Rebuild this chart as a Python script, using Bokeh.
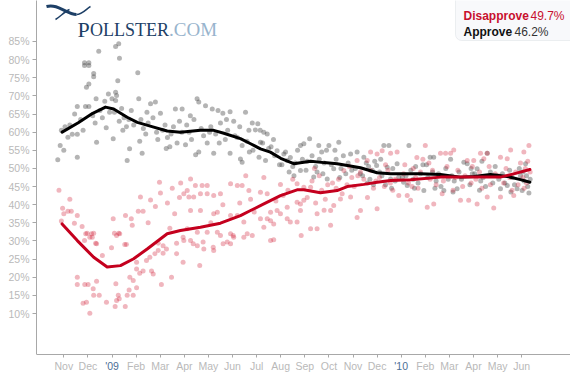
from bokeh.plotting import figure
from bokeh.models import Range1d, FixedTicker, Label, BoxAnnotation, LinearAxis
from bokeh.embed import file_html
from bokeh.resources import INLINE

# ---------------- data ----------------
# x = months since 1 Nov 2008 (0 = Nov '08, 2 = Jan '09, 14 = Jan '10)
month_ticks = list(range(20))
month_labels = ["Nov", "Dec", "'09", "Feb", "Mar", "Apr", "May", "Jun", "Jul", "Aug",
                "Sep", "Oct", "Nov", "Dec", "'10", "Feb", "Mar", "Apr", "May", "Jun"]
y_ticks = [10, 15, 20, 25, 30, 35, 40, 45, 50, 55, 60, 65, 70, 75, 80, 85]

approve_trend_x = [-0.07, 0.6, 1.2, 1.73, 2.07, 2.63, 3.05, 3.73, 4.29, 4.84, 5.67, 6.22, 6.64,
                   7.33, 7.75, 8.16, 8.57, 9.0, 9.54, 10.24, 10.8, 11.34, 12.31, 13.0, 13.56,
                   14.39, 14.8, 15.63, 16.46, 17.01, 17.7, 18.4, 18.95, 19.34]
approve_trend_y = [60.0, 62.6, 65.2, 66.9, 66.4, 64.1, 62.7, 61.4, 60.3, 60.0, 60.5, 60.5, 59.7,
                   58.2, 56.8, 55.4, 54.5, 52.8, 51.3, 52.0, 51.6, 51.3, 50.2, 48.8, 48.5,
                   48.5, 48.5, 48.3, 47.6, 47.8, 48.3, 47.8, 46.9, 46.2]

disapprove_trend_x = [-0.07, 0.56, 1.24, 1.8, 2.35, 2.9, 3.46, 4.29, 4.84, 5.67, 6.5, 7.33,
                      7.75, 8.3, 8.99, 9.68, 9.96, 10.65, 11.34, 11.76, 12.45, 13.0, 13.56,
                      14.39, 15.63, 17.29, 18.12, 18.67, 19.34]
disapprove_trend_y = [34.7, 30.1, 25.5, 22.8, 23.2, 25.1, 27.8, 32.0, 32.9, 33.8, 34.9, 37.0,
                      38.4, 40.2, 42.5, 44.1, 44.1, 43.3, 43.9, 45.0, 45.6, 46.2, 46.7,
                      46.9, 47.6, 47.6, 47.6, 48.5, 49.7]

approve_polls = [
    (-0.25, 52.4), (-0.15, 56.3), (-0.1, 60.5), (0.0, 55.0), (0.05, 61.5),
    (0.17, 58.6), (0.35, 59.4), (0.56, 59.4), (0.56, 53.1), (0.56, 67.1), (0.86, 79.1), (0.86, 78.4),
    (0.9, 67.1), (0.94, 72.4), (1.04, 73.3), (1.04, 79.1), (1.04, 78.4), (0.25, 62.0), (0.7, 63.5),
    (0.45, 65.0), (0.8, 60.5),
    (1.04, 67.1), (1.24, 76.2), (1.24, 75.3), (1.34, 69.2), (1.36, 57.2), (1.45, 82.3), (1.76, 61.2),
    (1.2, 64.5), (1.5, 66.0), (1.6, 64.0), (1.7, 68.5), (1.9, 65.5), (1.3, 62.5), (1.85, 70.5),
    (2.0, 69.2), (2.05, 58.2), (2.15, 83.6), (2.15, 71.0), (2.15, 68.7), (2.19, 70.1), (2.24, 74.2),
    (2.28, 84.4), (2.31, 80.4), (2.63, 52.2), (2.73, 55.4), (2.1, 65.5), (2.3, 63.0), (2.4, 66.5),
    (2.5, 64.0), (2.6, 61.5), (2.7, 63.5), (2.8, 66.0), (2.9, 62.0), (2.45, 60.5),
    (3.07, 76.4), (3.11, 69.2), (3.6, 67.8), (3.8, 68.3), (3.25, 54.2), (3.2, 63.5), (3.3, 61.0),
    (3.4, 59.5), (3.5, 62.5), (3.7, 64.0), (3.85, 60.0), (3.9, 58.0), (3.45, 65.5), (3.15, 57.5),
    (4.01, 65.2), (4.63, 66.4), (4.91, 66.4), (4.1, 60.5), (4.2, 62.0), (4.3, 58.5), (4.45, 59.5),
    (4.55, 61.5), (4.7, 57.0), (4.8, 63.0), (4.4, 56.0), (4.9, 60.0), (4.25, 55.5),
    (5.53, 69.2), (5.6, 68.3), (5.47, 53.8), (5.6, 54.5), (5.88, 67.3), (5.1, 62.0), (5.2, 60.0),
    (5.3, 58.0), (5.4, 63.5), (5.7, 61.0), (5.8, 59.0), (5.95, 57.0), (5.25, 64.5), (5.05, 56.5),
    (6.16, 66.4), (6.4, 66.0), (6.6, 65.2), (6.9, 65.6), (6.22, 54.2), (6.9, 54.2), (6.1, 61.5),
    (6.3, 59.5), (6.5, 62.5), (6.7, 58.0), (6.8, 60.5), (6.45, 57.0), (6.75, 63.5), (6.05, 60.0),
    (7.54, 65.5), (7.82, 62.5), (7.68, 60.5), (7.95, 60.6), (7.2, 58.5), (7.4, 56.3), (7.33, 52.6),
    (7.4, 51.7), (7.1, 59.0), (7.6, 57.5), (7.3, 61.5), (7.85, 55.0), (7.05, 63.0), (7.7, 54.5),
    (8.05, 62.3), (8.3, 60.0), (8.44, 59.5), (8.16, 57.2), (8.1, 53.1), (8.37, 52.2), (8.85, 54.9),
    (8.6, 56.0), (8.7, 58.0), (8.5, 55.5), (8.95, 51.0), (8.25, 57.0), (8.75, 53.5), (8.15, 60.5),
    (9.13, 54.0), (9.27, 52.2), (9.82, 56.3), (9.96, 56.8), (9.82, 49.4), (9.4, 53.0), (9.5, 50.5),
    (9.6, 51.5), (9.7, 55.0), (9.35, 49.0), (9.9, 52.5), (9.55, 48.0), (9.2, 54.5), (9.05, 51.0),
    (10.2, 58.2), (10.58, 56.3), (10.51, 49.0), (10.37, 47.6), (10.93, 47.1), (10.1, 52.0),
    (10.3, 53.5), (10.45, 50.5), (10.7, 54.5), (10.8, 51.5), (10.05, 49.5), (10.9, 55.0),
    (10.6, 52.5), (10.75, 48.5),
    (11.0, 56.3), (11.41, 57.2), (11.2, 49.9), (11.9, 54.0), (11.1, 51.0), (11.3, 52.5), (11.5, 50.0),
    (11.6, 53.5), (11.7, 48.5), (11.8, 51.5), (11.45, 47.5), (11.25, 55.0), (11.95, 49.5),
    (12.17, 54.5), (12.45, 53.1), (12.98, 50.8), (12.1, 50.0), (12.3, 48.5), (12.55, 51.5),
    (12.7, 47.0), (12.8, 49.5), (12.6, 46.0), (12.9, 52.0), (12.4, 48.0), (12.85, 45.5), (12.65, 50.5),
    (13.28, 56.3), (13.49, 56.3), (13.42, 50.3), (13.83, 51.3), (13.56, 47.1), (13.9, 47.6),
    (13.1, 49.0), (13.2, 48.0), (13.35, 45.5), (13.65, 50.0), (13.75, 46.5), (13.6, 44.5), (13.15, 52.5),
    (14.32, 56.3), (14.1, 46.2), (14.25, 45.3), (14.94, 43.9), (14.2, 48.0), (14.4, 49.5), (14.5, 47.0),
    (14.6, 50.5), (14.7, 46.0), (14.8, 48.5), (14.55, 44.5), (14.9, 51.0), (14.05, 47.5),
    (15.2, 53.1), (15.35, 53.1), (15.77, 43.9), (15.1, 47.5), (15.3, 49.0), (15.45, 46.5),
    (15.55, 48.5), (15.65, 45.0), (15.85, 50.0), (15.95, 47.0), (15.4, 44.5), (15.05, 51.0),
    (16.6, 51.7), (16.74, 51.3), (16.32, 44.4), (16.1, 48.0), (16.2, 46.5), (16.4, 49.0), (16.5, 47.0),
    (16.85, 45.5), (16.9, 50.0), (16.95, 48.5), (16.15, 43.5), (16.05, 52.5),
    (17.57, 54.2), (17.15, 49.9), (17.05, 48.5), (17.3, 46.5), (17.4, 47.5), (17.5, 45.0), (17.7, 49.0),
    (17.8, 46.0), (17.9, 50.5), (17.25, 44.0), (17.95, 48.0), (17.35, 52.0),
    (18.12, 44.4), (18.4, 45.3), (18.81, 44.4), (18.05, 47.0), (18.2, 48.5), (18.3, 46.0), (18.5, 49.5),
    (18.6, 47.5), (18.7, 45.5), (18.9, 50.0), (18.55, 43.5), (18.95, 48.0),
    (19.16, 51.3), (19.3, 43.2), (19.02, 43.9), (19.1, 46.5), (19.2, 48.0), (19.25, 45.0),
    (19.35, 47.0), (19.05, 49.0),
]

disapprove_polls = [
    (-0.2, 44.0), (-0.05, 39.0), (-0.1, 35.5), (0.0, 37.5),
    (0.17, 38.2), (0.31, 38.2), (0.56, 37.0), (0.44, 34.9), (0.76, 34.0), (0.97, 32.1), (0.86, 30.1),
    (0.56, 20.0), (0.56, 18.0), (0.87, 18.0), (0.8, 12.8), (0.94, 13.1), (0.91, 32.0), (0.25, 41.5),
    (1.01, 18.0), (1.08, 10.1), (1.22, 16.8), (1.36, 18.9), (1.24, 15.0), (1.47, 15.0), (1.77, 13.1),
    (1.15, 32.0), (1.08, 31.0), (1.36, 29.2), (1.18, 31.0), (1.24, 32.1), (1.32, 29.4), (1.98, 28.1),
    (1.6, 26.0),
    (2.16, 18.2), (2.26, 15.0), (2.3, 14.1), (2.19, 13.6), (2.13, 11.9), (2.55, 11.9), (2.63, 15.0),
    (2.71, 16.5), (2.88, 15.0), (2.74, 20.0), (2.88, 19.1), (2.19, 31.5), (2.32, 32.0), (2.53, 29.0),
    (2.6, 29.0), (2.05, 36.1), (2.56, 37.0), (2.8, 36.1), (2.84, 34.3), (2.1, 32.1), (2.28, 32.1),
    (3.02, 17.1), (3.02, 22.3), (3.15, 21.1), (3.29, 21.7), (3.64, 21.7), (3.71, 20.9), (3.02, 24.1),
    (3.43, 24.6), (3.57, 25.5), (3.78, 26.5), (3.92, 27.4), (3.92, 29.4), (3.18, 42.1), (3.09, 38.2),
    (3.29, 38.2), (3.6, 41.3), (3.97, 46.2), (3.5, 35.0), (3.8, 39.5),
    (4.01, 43.2), (4.05, 18.0), (4.47, 20.0), (4.12, 26.6), (4.26, 27.8), (4.68, 26.5), (4.95, 24.1),
    (4.12, 28.7), (4.68, 29.4), (4.95, 31.0), (4.98, 43.0), (4.98, 30.1), (4.3, 40.5), (4.5, 44.5),
    (4.6, 37.5), (4.8, 42.0), (4.4, 33.5), (4.85, 46.0),
    (5.64, 23.2), (5.37, 29.2), (5.78, 29.7), (5.26, 47.1), (5.46, 45.3), (5.74, 45.3), (5.95, 45.3),
    (5.12, 43.9), (5.19, 42.1), (5.39, 42.1), (5.67, 43.0), (5.95, 43.0), (5.26, 38.4), (5.67, 38.4),
    (5.12, 33.4), (5.54, 32.4), (5.95, 32.4), (5.26, 30.1), (5.54, 28.7), (5.81, 27.8),
    (6.2, 28.3), (6.61, 29.2), (6.22, 42.5), (6.5, 43.0), (6.92, 45.8), (6.22, 37.5), (6.37, 37.9),
    (6.92, 37.0), (6.37, 32.4), (6.5, 31.5), (6.92, 32.0), (6.78, 29.7), (6.22, 27.4), (6.92, 29.2),
    (6.6, 40.0), (6.1, 35.0),
    (7.03, 31.5), (7.2, 45.3), (7.4, 45.3), (7.68, 43.9), (7.2, 37.0), (7.47, 35.2), (7.05, 31.0),
    (7.47, 31.0), (7.61, 32.0), (7.82, 31.5), (7.3, 40.5), (7.9, 38.0), (7.55, 48.0), (7.75, 41.5),
    (8.16, 43.4), (8.44, 43.0), (8.99, 45.6), (8.16, 36.1), (8.44, 36.1), (8.58, 37.9), (8.85, 38.4),
    (8.99, 37.5), (8.3, 33.8), (8.71, 34.7), (8.58, 30.1), (8.71, 30.3), (8.58, 35.6), (8.3, 47.5),
    (8.8, 41.0),
    (9.68, 45.8), (9.96, 44.8), (9.27, 39.3), (9.68, 40.7), (9.82, 38.4), (9.4, 35.2), (9.68, 35.2),
    (9.27, 36.1), (9.82, 40.2), (9.96, 41.2), (9.1, 42.5), (9.5, 47.0), (9.3, 44.0), (9.85, 31.5),
    (10.24, 44.8), (10.51, 37.5), (10.24, 33.4), (10.51, 33.4), (10.1, 42.0), (10.3, 46.5),
    (10.45, 40.5), (10.6, 48.0), (10.7, 44.0), (10.85, 41.5), (10.95, 45.5), (10.4, 50.0), (10.8, 38.5),
    (11.07, 38.4), (11.2, 39.8), (11.07, 34.3), (11.48, 41.6), (11.9, 42.1), (11.62, 49.4),
    (11.3, 44.5), (11.4, 47.0), (11.75, 45.5), (11.85, 50.5), (11.55, 43.0), (11.15, 46.0), (11.95, 47.5),
    (12.17, 52.2), (12.59, 52.2), (12.31, 49.0), (12.73, 49.4), (12.31, 38.4), (12.17, 36.5),
    (12.73, 54.5), (12.05, 45.0), (12.45, 47.0), (12.85, 44.5), (12.6, 42.0), (12.95, 46.5), (12.2, 48.0),
    (13.0, 54.0), (13.21, 54.9), (13.56, 54.2), (13.83, 54.5), (13.0, 38.9), (13.1, 47.5), (13.3, 45.0),
    (13.45, 49.5), (13.65, 44.0), (13.75, 47.0), (13.9, 42.5), (13.35, 51.0), (13.55, 46.0),
    (14.25, 42.5), (14.39, 41.2), (14.1, 48.5), (14.3, 46.0), (14.5, 50.0), (14.6, 47.5), (14.7, 44.5),
    (14.8, 49.0), (14.9, 52.5), (14.45, 45.0), (14.65, 53.0), (14.15, 51.0),
    (15.0, 56.3), (15.08, 39.3), (15.35, 40.2), (15.63, 54.2), (15.84, 54.2), (15.2, 47.0), (15.3, 49.5),
    (15.45, 45.5), (15.55, 48.0), (15.7, 43.0), (15.9, 50.5), (15.15, 51.5), (15.75, 46.5),
    (16.05, 54.2), (16.18, 55.1), (16.46, 41.2), (16.8, 41.2), (16.74, 52.2), (16.25, 47.5),
    (16.35, 49.5), (16.55, 45.0), (16.65, 48.0), (16.9, 46.0), (16.15, 44.0), (16.95, 50.5),
    (17.01, 52.2), (17.29, 54.2), (17.57, 54.2), (17.43, 52.7), (17.15, 40.2), (17.84, 39.1),
    (17.57, 42.1), (17.1, 47.0), (17.25, 49.0), (17.7, 45.5), (17.9, 48.5), (17.35, 44.5), (17.65, 50.5),
    (18.12, 53.1), (18.4, 52.7), (18.54, 55.1), (18.12, 42.1), (18.67, 42.5), (18.05, 48.0),
    (18.25, 46.0), (18.35, 50.0), (18.5, 47.5), (18.75, 49.0), (18.85, 45.5), (18.95, 51.5), (18.6, 44.0),
    (19.09, 54.5), (19.3, 56.3), (19.05, 47.5), (19.15, 50.0), (19.2, 46.0), (19.25, 52.0),
    (19.35, 49.0), (19.1, 44.5),
]

# ---------------- layout helpers (picture pixel -> data) ----------------
def px2x(px):
    return (px - 63.3) / 24.1

def py2y(py):
    return 10 + (313 - py) / 3.627

FONT = "Liberation Sans"
AXIS_GRAY = "#b9b9b9"
AXIS_LINE = "#a8a8a8"
BASE_Y = py2y(354)          # value at the bottom axis line

# the frame reaches the bottom of the canvas so that the pinned x axes are not clipped
p = figure(width=570, height=379, output_backend="svg", toolbar_location=None,
           x_range=Range1d(px2x(36), px2x(570)), y_range=Range1d(py2y(379), py2y(0)),
           x_axis_location=None,
           min_border_left=36, min_border_right=0, min_border_top=0, min_border_bottom=0)
p.outline_line_color = None
p.grid.visible = False
p.background_fill_color = "white"

# y axis
p.yaxis.ticker = FixedTicker(ticks=y_ticks)
p.yaxis.major_label_overrides = {v: f"{v}%" for v in y_ticks}
p.yaxis.bounds = (BASE_Y, py2y(0))
p.yaxis.axis_line_color = AXIS_LINE
p.yaxis.major_tick_line_color = AXIS_LINE
p.yaxis.minor_tick_line_color = None
p.yaxis.major_tick_in = 0
p.yaxis.major_tick_out = 4
p.yaxis.major_label_standoff = 3
p.yaxis.major_label_text_color = AXIS_GRAY
p.yaxis.major_label_text_font = FONT
p.yaxis.major_label_text_font_size = "10.5px"

# x axis (months, grey) pinned at the base line
month_axis = LinearAxis(ticker=FixedTicker(ticks=month_ticks),
                        major_label_overrides={t: ("" if lab.startswith("'") else lab)
                                               for t, lab in zip(month_ticks, month_labels)},
                        fixed_location=BASE_Y)
# years, blue, on a second pinned axis at the same place
year_ticks = [t for t, lab in zip(month_ticks, month_labels) if lab.startswith("'")]
year_axis = LinearAxis(ticker=FixedTicker(ticks=year_ticks),
                       major_label_overrides={t: lab for t, lab in zip(month_ticks, month_labels)
                                              if lab.startswith("'")},
                       fixed_location=BASE_Y)
for ax, col in ((month_axis, AXIS_GRAY), (year_axis, "#4d7096")):
    ax.minor_tick_line_color = None
    ax.major_tick_in = 0
    ax.major_tick_out = 3
    ax.major_label_standoff = 2
    ax.major_label_text_color = col
    ax.major_label_text_font = FONT
    ax.major_label_text_font_size = "10.5px"
month_axis.axis_line_color = AXIS_LINE
month_axis.major_tick_line_color = AXIS_LINE
year_axis.axis_line_color = None
year_axis.major_tick_line_color = None
p.add_layout(month_axis, "below")
p.add_layout(year_axis, "below")

# scatter of individual polls
p.scatter([a for a, b in approve_polls], [b for a, b in approve_polls], size=5,
          fill_color="#444444", fill_alpha=0.4, line_color=None)
p.scatter([a for a, b in disapprove_polls], [b for a, b in disapprove_polls], size=5,
          fill_color="#d0203a", fill_alpha=0.33, line_color=None)

# trend lines
p.line(approve_trend_x, approve_trend_y, line_color="#000000", line_width=3,
       line_join="round", line_cap="round")
p.line(disapprove_trend_x, disapprove_trend_y, line_color="#c4001e", line_width=3,
       line_join="round", line_cap="round")

# legend box (top right)
p.add_layout(BoxAnnotation(left=px2x(455), right=px2x(580), bottom=py2y(40), top=py2y(-8),
                           fill_color="#f8f9fb", fill_alpha=1.0, border_radius=6,
                           line_color="#c6cdd5", line_width=1))
p.add_layout(Label(x=px2x(463), y=py2y(15), text="Disapprove", text_font=FONT,
                   text_font_style="bold", text_font_size="12px", text_color="#c8102e",
                   text_baseline="alphabetic"))
p.add_layout(Label(x=px2x(530), y=py2y(15), text=f"{disapprove_trend_y[-1]:.1f}%", text_font=FONT,
                   text_font_size="12px", text_color="#c8102e", text_baseline="alphabetic"))
p.add_layout(Label(x=px2x(463), y=py2y(31), text="Approve", text_font=FONT,
                   text_font_style="bold", text_font_size="12px", text_color="#111111",
                   text_baseline="alphabetic"))
p.add_layout(Label(x=px2x(514), y=py2y(31), text=f"{approve_trend_y[-1]:.1f}%", text_font=FONT,
                   text_font_size="12px", text_color="#333333", text_baseline="alphabetic"))

# logo
LOGO_DARK = "#1d3f66"
p.add_layout(Label(x=px2x(77), y=py2y(29), text="P", text_font="Liberation Serif",
                   text_font_size="22px", text_color=LOGO_DARK, text_baseline="alphabetic"))
p.add_layout(Label(x=px2x(89.5), y=py2y(29), text="OLLSTER", text_font="Liberation Serif",
                   text_font_size="18px", text_color=LOGO_DARK, text_baseline="alphabetic"))
p.add_layout(Label(x=px2x(168.5), y=py2y(29), text=".COM", text_font="Liberation Serif",
                   text_font_size="19px", text_color="#98b4cd", text_baseline="alphabetic"))
p.bezier(x0=[px2x(46)], y0=[py2y(6)], x1=[px2x(76)], y1=[py2y(14)],
         cx0=[px2x(58)], cy0=[py2y(3)], cx1=[px2x(66)], cy1=[py2y(14)],
         line_color=LOGO_DARK, line_width=3)
p.bezier(x0=[px2x(76)], y0=[py2y(14)], x1=[px2x(90)], y1=[py2y(6)],
         cx0=[px2x(82)], cy0=[py2y(14)], cx1=[px2x(86)], cy1=[py2y(8)],
         line_color=LOGO_DARK, line_width=1.5)
p.bezier(x0=[px2x(55)], y0=[py2y(19)], x1=[px2x(69)], y1=[py2y(9)],
         cx0=[px2x(60)], cy0=[py2y(16)], cx1=[px2x(64)], cy1=[py2y(11)],
         line_color=LOGO_DARK, line_width=1.5)

open("out.html", "w").write(file_html(p, INLINE))
